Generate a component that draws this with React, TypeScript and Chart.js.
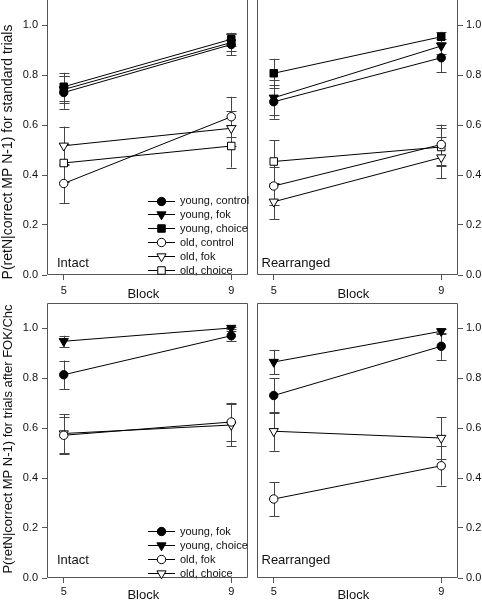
import React, { useEffect, useRef } from 'react';
import { Chart, registerables } from 'chart.js';

Chart.register(...registerables);

const FONT = '"Liberation Sans", Arial, Helvetica, sans-serif';

// ---------- data ----------
const blocks = [5, 9];
const yTickValues = [0, 0.2, 0.4, 0.6, 0.8, 1.0];

// standard trials, Intact
const stdIntactYoungControl = [0.730, 0.922];
const stdIntactYoungControlErr = [0.065, 0.042];
const stdIntactYoungFok = [0.742, 0.930];
const stdIntactYoungFokErr = [0.055, 0.035];
const stdIntactYoungChoice = [0.753, 0.943];
const stdIntactYoungChoiceErr = [0.056, 0.026];
const stdIntactOldControl = [0.366, 0.633];
const stdIntactOldControlErr = [0.078, 0.080];
const stdIntactOldFok = [0.517, 0.587];
const stdIntactOldFokErr = [0.077, 0.070];
const stdIntactOldChoice = [0.448, 0.516];
const stdIntactOldChoiceErr = [0.075, 0.086];

// standard trials, Rearranged
const stdRearrYoungControl = [0.693, 0.869];
const stdRearrYoungControlErr = [0.068, 0.058];
const stdRearrYoungFok = [0.709, 0.916];
const stdRearrYoungFokErr = [0.070, 0.030];
const stdRearrYoungChoice = [0.807, 0.953];
const stdRearrYoungChoiceErr = [0.058, 0.020];
const stdRearrOldControl = [0.356, 0.522];
const stdRearrOldControlErr = [0.076, 0.080];
const stdRearrOldFok = [0.293, 0.470];
const stdRearrOldFokErr = [0.070, 0.082];
const stdRearrOldChoice = [0.454, 0.512];
const stdRearrOldChoiceErr = [0.085, 0.075];

// trials after FOK/Chc, Intact
const fcIntactYoungFok = [0.813, 0.969];
const fcIntactYoungFokErr = [0.057, 0.020];
const fcIntactYoungChoice = [0.947, 1.0];
const fcIntactYoungChoiceErr = [0.022, 0.005];
const fcIntactOldFok = [0.571, 0.624];
const fcIntactOldFokErr = [0.075, 0.077];
const fcIntactOldChoice = [0.578, 0.612];
const fcIntactOldChoiceErr = [0.078, 0.085];

// trials after FOK/Chc, Rearranged
const fcRearrYoungFok = [0.730, 0.927];
const fcRearrYoungFokErr = [0.070, 0.054];
const fcRearrYoungChoice = [0.864, 0.987];
const fcRearrYoungChoiceErr = [0.049, 0.010];
const fcRearrOldFok = [0.316, 0.449];
const fcRearrOldFokErr = [0.068, 0.079];
const fcRearrOldChoice = [0.587, 0.560];
const fcRearrOldChoiceErr = [0.078, 0.084];

// ---------- styles ----------
type Marker = 'circle' | 'triangle' | 'rect';
interface SeriesDef { label: string; values: number[]; errors: number[]; marker: Marker; filled: boolean; }

const R_CIRCLE = 4.2;
const R_TRI = 5.3;
const R_RECT = 5.3;
const radiusOf = (m: Marker) => (m === 'circle' ? R_CIRCLE : m === 'triangle' ? R_TRI : R_RECT);

const FRAME = '#555';
const ERR = '#444';
const TEXT = '#111';

interface PanelDef {
  series: SeriesDef[];
  side: 'left' | 'right';
  yTitle?: string;
  yTitleSize: number;
  yTitleCenterY: number;
  yTitleX: number;
  panelLabel: string;
  labelDx: number;
  labelUp: number;
  blockDown: number;
  legend: boolean;
  box: { left: number; top: number; width: number; height: number };
  pad: { left: number; right: number; top: number };
  xAxisHeight: number;
  yAxisWidth: number;
  xTickPad: number;
  yTickPad: number;
}

function drawMarker(ctx: CanvasRenderingContext2D, m: Marker, filled: boolean, x: number, y: number) {
  ctx.save();
  ctx.beginPath();
  if (m === 'circle') {
    ctx.arc(x, y, R_CIRCLE, 0, Math.PI * 2);
  } else if (m === 'triangle') {
    const r = R_TRI;
    ctx.moveTo(x, y + r);
    ctx.lineTo(x - 0.866 * r, y - 0.5 * r);
    ctx.lineTo(x + 0.866 * r, y - 0.5 * r);
    ctx.closePath();
  } else {
    const h = R_RECT * Math.SQRT1_2;
    ctx.rect(x - h, y - h, 2 * h, 2 * h);
  }
  ctx.fillStyle = filled ? '#000' : '#fff';
  ctx.fill();
  ctx.strokeStyle = '#000';
  ctx.lineWidth = 1;
  ctx.stroke();
  ctx.restore();
}

function Panel({ def }: { def: PanelDef }) {
  const ref = useRef<HTMLCanvasElement | null>(null);
  useEffect(() => {
    const canvas = ref.current;
    if (!canvas) return;

    const errorBars = {
      id: 'errorBars',
      beforeDatasetsDraw(chart: any) {
        const ctx = chart.ctx as CanvasRenderingContext2D;
        const ys = chart.scales.y;
        ctx.save();
        ctx.strokeStyle = ERR;
        ctx.lineWidth = 1;
        def.series.forEach((s, di) => {
          const meta = chart.getDatasetMeta(di);
          meta.data.forEach((pt: any, i: number) => {
            const x = Math.round(pt.x) + 0.5;
            const yt = ys.getPixelForValue(s.values[i] + s.errors[i]);
            const yb = ys.getPixelForValue(s.values[i] - s.errors[i]);
            ctx.beginPath();
            ctx.moveTo(x, yt);
            ctx.lineTo(x, yb);
            ctx.moveTo(x - 5, Math.round(yt) + 0.5);
            ctx.lineTo(x + 5, Math.round(yt) + 0.5);
            ctx.moveTo(x - 5, Math.round(yb) + 0.5);
            ctx.lineTo(x + 5, Math.round(yb) + 0.5);
            ctx.stroke();
          });
        });
        ctx.restore();
      },
    };

    const decorations = {
      id: 'decorations',
      afterDraw(chart: any) {
        const ctx = chart.ctx as CanvasRenderingContext2D;
        const a = chart.chartArea;
        ctx.save();
        // frame (top edge lies just outside the picture for the upper row)
        ctx.strokeStyle = FRAME;
        ctx.lineWidth = 1;
        const l = Math.round(a.left) + 0.5;
        const r = Math.round(a.right) - 0.5;
        const t = a.top > 0 ? Math.round(a.top) + 0.5 : -1;
        const b = Math.round(a.bottom) - 0.5;
        ctx.beginPath();
        ctx.moveTo(l, t);
        ctx.lineTo(r, t);
        ctx.lineTo(r, b);
        ctx.lineTo(l, b);
        ctx.closePath();
        ctx.stroke();
        ctx.fillStyle = TEXT;
        // panel label
        ctx.font = `13px ${FONT}`;
        ctx.textAlign = 'left';
        ctx.textBaseline = 'alphabetic';
        ctx.fillText(def.panelLabel, a.left + def.labelDx, a.bottom - def.labelUp);
        // x title
        ctx.textAlign = 'center';
        ctx.fillText('Block', a.left + 96.3, a.bottom + def.blockDown);
        // y title
        if (def.yTitle) {
          ctx.save();
          ctx.translate(def.yTitleX, def.yTitleCenterY);
          ctx.rotate(-Math.PI / 2);
          ctx.font = `${def.yTitleSize}px ${FONT}`;
          ctx.textAlign = 'center';
          ctx.textBaseline = 'middle';
          ctx.fillText(def.yTitle, 0, 0);
          ctx.restore();
        }
        // legend
        if (def.legend) {
          const n = def.series.length;
          const step = 13.9;
          def.series.forEach((s, i) => {
            const y = a.bottom - 5 - (n - 1 - i) * step;
            ctx.strokeStyle = '#000';
            ctx.lineWidth = 1;
            ctx.beginPath();
            ctx.moveTo(a.left + 101, Math.round(y) + 0.5);
            ctx.lineTo(a.left + 128, Math.round(y) + 0.5);
            ctx.stroke();
            drawMarker(ctx, s.marker, s.filled, a.left + 114.5, Math.round(y) + 0.5);
            ctx.fillStyle = TEXT;
            ctx.font = `11px ${FONT}`;
            ctx.textAlign = 'left';
            ctx.textBaseline = 'middle';
            ctx.fillText(s.label, a.left + 133, y + 0.5);
          });
        }
        ctx.restore();
      },
    };

    const chart = new Chart(canvas, {
      type: 'line',
      data: {
        datasets: def.series.map((s) => ({
          label: s.label,
          data: blocks.map((b, i) => ({ x: b, y: s.values[i] })),
          borderColor: '#000',
          borderWidth: 1,
          tension: 0,
          fill: false,
          pointStyle: s.marker,
          pointRotation: s.marker === 'triangle' ? 180 : 0,
          pointRadius: radiusOf(s.marker),
          pointBackgroundColor: s.filled ? '#000' : '#fff',
          pointBorderColor: '#000',
          pointBorderWidth: 1,
        })),
      },
      options: {
        animation: false,
        responsive: false,
        maintainAspectRatio: false,
        events: [],
        layout: {
          autoPadding: false,
          padding: { left: def.pad.left, right: def.pad.right, top: def.pad.top, bottom: 0 },
        },
        plugins: { legend: { display: false }, tooltip: { enabled: false }, title: { display: false } },
        scales: {
          x: {
            type: 'linear',
            min: 4.6,
            max: 9.4,
            position: 'bottom',
            afterBuildTicks: (sc: any) => { sc.ticks = blocks.map((v) => ({ value: v })); },
            afterFit: (sc: any) => {
              sc.height = def.xAxisHeight;
              sc.paddingLeft = 0; sc.paddingRight = 0; sc.paddingTop = 0; sc.paddingBottom = 0;
            },
            ticks: {
              autoSkip: false,
              maxRotation: 0,
              padding: def.xTickPad,
              color: TEXT,
              font: { family: FONT, size: 11 },
              callback: (v: any) => String(v),
            },
            grid: { drawOnChartArea: false, drawTicks: true, tickLength: 5, color: FRAME, lineWidth: 1 },
            border: { display: false },
          },
          y: {
            type: 'linear',
            min: 0,
            max: 1.1,
            position: def.side,
            afterBuildTicks: (sc: any) => { sc.ticks = yTickValues.map((v) => ({ value: v })); },
            afterFit: (sc: any) => {
              sc.width = def.yAxisWidth;
              sc.paddingLeft = 0; sc.paddingRight = 0; sc.paddingTop = 0; sc.paddingBottom = 0;
            },
            ticks: {
              autoSkip: false,
              padding: def.yTickPad,
              color: TEXT,
              font: { family: FONT, size: 11 },
              callback: (v: any) => Number(v).toFixed(1),
            },
            grid: { drawOnChartArea: false, drawTicks: true, tickLength: 5, color: FRAME, lineWidth: 1 },
            border: { display: false },
          },
        },
      } as any,
      plugins: [errorBars, decorations],
    });
    return () => chart.destroy();
  }, [def]);

  return (
    <canvas
      ref={ref}
      width={def.box.width}
      height={def.box.height}
      style={{ position: 'absolute', left: def.box.left, top: def.box.top, width: def.box.width, height: def.box.height }}
    />
  );
}

const standardSeriesIntact: SeriesDef[] = [
  { label: 'young, control', values: stdIntactYoungControl, errors: stdIntactYoungControlErr, marker: 'circle', filled: true },
  { label: 'young, fok', values: stdIntactYoungFok, errors: stdIntactYoungFokErr, marker: 'triangle', filled: true },
  { label: 'young, choice', values: stdIntactYoungChoice, errors: stdIntactYoungChoiceErr, marker: 'rect', filled: true },
  { label: 'old, control', values: stdIntactOldControl, errors: stdIntactOldControlErr, marker: 'circle', filled: false },
  { label: 'old, fok', values: stdIntactOldFok, errors: stdIntactOldFokErr, marker: 'triangle', filled: false },
  { label: 'old, choice', values: stdIntactOldChoice, errors: stdIntactOldChoiceErr, marker: 'rect', filled: false },
];
const standardSeriesRearr: SeriesDef[] = [
  { label: 'young, control', values: stdRearrYoungControl, errors: stdRearrYoungControlErr, marker: 'circle', filled: true },
  { label: 'young, fok', values: stdRearrYoungFok, errors: stdRearrYoungFokErr, marker: 'triangle', filled: true },
  { label: 'young, choice', values: stdRearrYoungChoice, errors: stdRearrYoungChoiceErr, marker: 'rect', filled: true },
  { label: 'old, control', values: stdRearrOldControl, errors: stdRearrOldControlErr, marker: 'circle', filled: false },
  { label: 'old, fok', values: stdRearrOldFok, errors: stdRearrOldFokErr, marker: 'triangle', filled: false },
  { label: 'old, choice', values: stdRearrOldChoice, errors: stdRearrOldChoiceErr, marker: 'rect', filled: false },
];
const fcSeriesIntact: SeriesDef[] = [
  { label: 'young, fok', values: fcIntactYoungFok, errors: fcIntactYoungFokErr, marker: 'circle', filled: true },
  { label: 'young, choice', values: fcIntactYoungChoice, errors: fcIntactYoungChoiceErr, marker: 'triangle', filled: true },
  { label: 'old, fok', values: fcIntactOldFok, errors: fcIntactOldFokErr, marker: 'circle', filled: false },
  { label: 'old, choice', values: fcIntactOldChoice, errors: fcIntactOldChoiceErr, marker: 'triangle', filled: false },
];
const fcSeriesRearr: SeriesDef[] = [
  { label: 'young, fok', values: fcRearrYoungFok, errors: fcRearrYoungFokErr, marker: 'circle', filled: true },
  { label: 'young, choice', values: fcRearrYoungChoice, errors: fcRearrYoungChoiceErr, marker: 'triangle', filled: true },
  { label: 'old, fok', values: fcRearrOldFok, errors: fcRearrOldFokErr, marker: 'circle', filled: false },
  { label: 'old, choice', values: fcRearrOldChoice, errors: fcRearrOldChoiceErr, marker: 'triangle', filled: false },
];

const PANELS: PanelDef[] = [
  {
    series: standardSeriesIntact, side: 'left',
    yTitle: 'P(retN|correct MP N-1) for standard trials', yTitleSize: 14, yTitleCenterY: 152, yTitleX: 8.5,
    panelLabel: 'Intact', labelDx: 10, labelUp: 8.5, blockDown: 22.6, legend: true,
    box: { left: 0, top: 0, width: 252, height: 300 },
    pad: { left: 0, right: 4, top: 0 }, xAxisHeight: 25, yAxisWidth: 47, xTickPad: 4, yTickPad: 4,
  },
  {
    series: standardSeriesRearr, side: 'right',
    yTitleSize: 14, yTitleCenterY: 0, yTitleX: 0,
    panelLabel: 'Rearranged', labelDx: 4.5, labelUp: 8.5, blockDown: 22.6, legend: false,
    box: { left: 252, top: 0, width: 230, height: 300 },
    pad: { left: 5, right: 0, top: 0 }, xAxisHeight: 25, yAxisWidth: 24, xTickPad: 4, yTickPad: 3,
  },
  {
    series: fcSeriesIntact, side: 'left',
    yTitle: 'P(retN|correct MP N-1) for trials after FOK/Chc', yTitleSize: 13, yTitleCenterY: 139, yTitleX: 8.5,
    panelLabel: 'Intact', labelDx: 10, labelUp: 14, blockDown: 21, legend: true,
    box: { left: 0, top: 300, width: 252, height: 301 },
    pad: { left: 0, right: 4, top: 3 }, xAxisHeight: 23, yAxisWidth: 47, xTickPad: 2, yTickPad: 4,
  },
  {
    series: fcSeriesRearr, side: 'right',
    yTitleSize: 13, yTitleCenterY: 0, yTitleX: 0,
    panelLabel: 'Rearranged', labelDx: 4.5, labelUp: 14, blockDown: 21, legend: false,
    box: { left: 252, top: 300, width: 230, height: 301 },
    pad: { left: 5, right: 0, top: 3 }, xAxisHeight: 23, yAxisWidth: 24, xTickPad: 2, yTickPad: 3,
  },
];

export default function App() {
  return (
    <div style={{ position: 'fixed', left: 0, top: 0, width: 482, height: 601, background: '#fff', overflow: 'hidden' }}>
      {PANELS.map((p, i) => (
        <Panel key={i} def={p} />
      ))}
    </div>
  );
}
